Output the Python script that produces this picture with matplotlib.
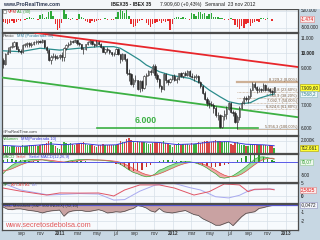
import numpy as np
import pandas as pd
import matplotlib
matplotlib.use("Agg")
import matplotlib.pyplot as plt
import matplotlib.dates as mdates
from matplotlib.patches import Rectangle
from matplotlib.ticker import NullLocator

plt.rcParams['font.family'] = ['Liberation Sans', 'DejaVu Sans']

W, H = 320, 240
L_PX, R_PX = 2, 298

# ---------------- data: IBEX 35 weekly ----------------
weeks = pd.date_range("2010-07-02", "2012-11-23", freq="W-FRI")
first_open = 9550
close = [9250, 9950, 10100, 10450, 10500, 10750, 10300, 10150, 10100, 10550, 10600, 10700, 10550,
         10650, 10800, 10750, 10850, 10800, 10900, 10400, 10200, 9550, 9750, 9800, 9650, 9750,
         9850, 9700, 10350, 10550, 10650, 10850, 10800, 10900, 10700, 10600, 10300, 10250, 10600,
         10750, 10850, 10600, 10550, 10800, 10650, 10450, 10100, 10250, 10200, 10050, 9950, 9950,
         10300, 9900, 9600, 9900, 9600, 8750, 8650, 8100, 8350, 8300, 7850, 8250, 7900,
         8550, 8600, 8850, 8800, 9150, 8600, 8400, 8000, 7850, 8650, 8300, 8200, 8400,
         8550, 8350, 8400, 8700, 8550, 8700, 8600, 8850, 8550, 8500, 8500, 8550, 8200,
         8000, 7600, 7300, 7100, 7050, 7000, 6900, 6550, 6550, 6050, 6500, 6600, 6850,
         7100, 6700, 6650, 6250, 6450, 6900, 7100, 7350, 7300, 7450, 7800, 8100, 7950,
         7750, 7850, 7750, 8050, 7800, 7850, 7700, 7650, 7909.6]
high = [9650, 10000, 10400, 10500, 10750, 10850, 10750, 10500, 10250, 10600, 10700, 10800, 10750,
        10800, 10850, 10900, 10900, 10950, 11000, 10900, 10500, 10250, 9850, 10000, 9900, 9850,
        9900, 10100, 10400, 10600, 10750, 10900, 10950, 11000, 10950, 10800, 10650, 10400, 10650,
        10850, 10900, 10850, 10700, 10900, 10850, 10700, 10500, 10300, 10400, 10250, 10100, 10050,
        10350, 10350, 9950, 10000, 9950, 9650, 8950, 8700, 8450, 8600, 8350, 8300, 8300,
        8600, 8700, 8900, 8950, 9300, 9250, 8750, 8450, 8050, 8750, 8700, 8400, 8450,
        8600, 8650, 8500, 8750, 8800, 8800, 8850, 8900, 8900, 8700, 8600, 8650, 8600,
        8250, 8050, 7700, 7400, 7250, 7200, 7100, 6950, 6700, 6600, 6550, 6800, 6950,
        7150, 7150, 6800, 6750, 6550, 6950, 7200, 7450, 7450, 7500, 7900, 8230, 8200,
        8000, 7950, 7900, 8150, 8100, 7950, 7900, 7750, 7950]
low = [9050, 9200, 9900, 10000, 10350, 10450, 10250, 10100, 9950, 10000, 10400, 10450, 10400,
       10450, 10550, 10650, 10650, 10700, 10700, 10350, 10000, 9450, 9300, 9650, 9550, 9600,
       9600, 9500, 9500, 10200, 10400, 10550, 10700, 10750, 10550, 10500, 10250, 9900, 10200,
       10550, 10650, 10550, 10400, 10500, 10550, 10350, 10050, 9950, 10100, 9950, 9800, 9800,
       9900, 9850, 9350, 9450, 9500, 8600, 8250, 8050, 7950, 8200, 7800, 7650, 7700,
       7850, 8050, 8550, 8600, 8700, 8450, 8200, 7900, 7650, 7800, 8150, 8050, 8150,
       8350, 8250, 8150, 8350, 8500, 8450, 8550, 8550, 8500, 8450, 8250, 8400, 8150,
       7900, 7550, 7250, 6950, 6900, 6950, 6650, 6450, 6350, 5990, 6020, 6350, 6400,
       6800, 6650, 6500, 6200, 5956, 6350, 6850, 7050, 7200, 7100, 7350, 7750, 7850,
       7600, 7650, 7650, 7700, 7700, 7700, 7600, 7500, 7600]

ma_weeks = [0, 8, 17, 26, 35, 44, 51, 54, 58, 63, 66, 72, 77, 81, 86, 91, 95, 100, 104, 109, 114, 118, 123, 125]
ma_vals = [10150, 10090, 10330, 10200, 10330, 10440, 10440, 10330, 9980, 9535, 9216, 8806,
           8610, 8513, 8417, 8137, 7776, 7427, 7181, 7071, 7131, 7348, 7516, 7568]

# VPM AL (30), thousands
vpm = [-150, -250, -300, -200, -100, -250, -150, -50, -100, 30,
       -40, 80, 120, 60, 100, 40, -30, 250, 300, 80,
       150, 450, 500, 200, -300, -650, -500, -200, 550, 300,
       60, -50, 80, 40, -30, 300, 150, 60, -100, -150,
       -200, -80, -150, -120, -60, -40, 30, 50, -40, 20,
       -60, -30, 150, 400, 550, 500, 350, 550, 200, -300,
       -450, -400, -200, -100, -50, 40, -200, -350, -450, -300,
       -250, -150, -100, -200, -100, -150, -80, -650, -300, 100,
       150, 120, 80, 140, 60, 30, -40, 350, 300, 200,
       450, 400, 300, 350, 200, 300, 350, 150, 120, 150,
       100, 80, -40, 30, -60, 50, -30, -350, -450, -550,
       -400, -500, -300, -250, -400, -200, -150, -100, -180, 60,
       100, -50, 80, 40, -80, -1.474]

# volume, thousands
volume = [1250, 1300, 1150, 1000, 1100, 1050, 900, 850, 950, 1200,
          1150, 1100, 1250, 1300, 1350, 1200, 1150, 1250, 1400, 1450,
          1600, 1900, 1750, 1350, 1100, 800, 600, 1300, 1800, 1600,
          1500, 1550, 1400, 1350, 1450, 1500, 1600, 1750, 1400, 1300,
          1250, 1200, 1150, 900, 1250, 1300, 1400, 1200, 1250, 1300,
          1350, 1200, 1300, 1500, 1900, 1700, 1800, 2300, 2450, 2100,
          1700, 1600, 1900, 1850, 1700, 1750, 1650, 1500, 1450, 1600,
          1700, 1800, 1750, 1650, 1900, 1600, 1450, 1200, 900, 1300,
          1500, 1550, 1350, 1500, 1450, 1400, 1350, 1550, 1400, 1500,
          1700, 1600, 1850, 1900, 2000, 1800, 1750, 1900, 2100, 1950,
          2000, 1800, 1900, 1700, 1750, 1450, 1300, 1600, 1750, 1500,
          1350, 1200, 1100, 1150, 1400, 1500, 1350, 1300, 1250, 1200,
          1300, 1200, 1150, 1250, 1100, 712.661]
vol_ma_weeks = [0, 8, 16, 22, 28, 36, 44, 52, 58, 64, 72, 80, 88, 96, 104, 112, 120, 125]
vol_ma = [1200, 1050, 1250, 1450, 1300, 1550, 1250, 1300, 1900, 1800, 1700, 1350,
          1450, 1800, 1850, 1400, 1300, 1150]

# indicators sampled every second week (plus last week)
bi_weeks = list(range(0, 125, 2)) + [125]
macd = [-420, -250, -120, -30, 30, 60, 80, 90, 90, 80,
        50, 20, -10, -20, -10, 30, 60, 80, 90, 90,
        80, 70, 70, 60, 40, 20, -20, -80, -180, -290,
        -380, -430, -500, -540, -520, -440, -300, -240, -160, -100,
        -40, 0, 10, 10, -20, -70, -130, -220, -330, -430,
        -560, -590, -560, -500, -400, -290, -170, -40, 100, 180,
        190, 160, 120, 100]
signal = [-300, -300, -250, -180, -110, -50, 0, 40, 65, 80,
          75, 60, 40, 15, 0, 0, 15, 40, 60, 75,
          80, 78, 74, 70, 60, 45, 25, -10, -70, -150,
          -240, -320, -400, -460, -490, -480, -430, -370, -300, -230,
          -160, -100, -50, -20, -10, -30, -70, -130, -210, -300,
          -400, -480, -530, -540, -510, -440, -340, -220, -100, 10,
          90, 130, 140, 130]
hist = [60, 120, 100, 80, 70, 60, 40, 30, 20, 10,
        -10, -30, -50, -40, -10, 30, 50, 50, 40, 20,
        0, -10, -10, -20, -30, -40, -60, -120, -200, -280,
        -330, -340, -300, -200, -100, 0, 40, 60, 60, 60,
        50, 40, 20, 10, -30, -80, -120, -160, -170, -170,
        -160, -120, -60, -20, 60, 150, 230, 300, 320, 280,
        200, 120, 60, 40]
rsc = [-0.3, -0.55, -0.6, -0.5, -0.5, -0.6, -0.7, -0.75, -0.85, -1.0,
       -0.85, -0.75, -0.7, -0.65, -1.4, -0.9, -0.75, -0.7, -0.7, -0.8,
       -0.8, -0.7, -0.6, -0.75, -1.0, -0.95, -0.85, -0.9, -0.8, -0.6,
       -0.45, -0.1, -0.2, -0.4, -0.75, -0.9, -0.45, -0.85, -0.95, -1.0,
       -0.9, -0.8, -0.7, -0.95, -1.2, -1.3, -1.7, -1.95, -2.2, -2.5,
       -2.5, -2.3, -2.1, -2.55, -2.0, -1.45, -1.05, -0.95, -0.85, -0.45,
       -0.35, -0.2, -0.1, -0.0472]

sp_red_weeks = [0, 8, 20, 26, 35, 44, 49, 51, 56, 63, 68, 72, 79, 88, 95, 102, 109, 113, 116, 123, 125]
sp_red = [3.3, 2.0, 0.4, 1.25, 1.2, 1.25, 0.4, 0.0, 2.5, 4.6, 4.6, 4.6, 3.3, 0.4, 1.8, 5.0, 4.6, 1.8, 2.8, 2.9, 2.5825]
sp_blue_weeks = [0, 8, 21, 35, 44, 51, 56, 63, 70, 75, 79, 86, 91, 98, 104, 109, 114, 123, 125]
sp_blue = [5.3, 2.5, 0.4, 1.0, 0.8, -1.7, -1.5, 2.0, 4.5, 5.2, 5.2, 3.5, 2.5, -0.3, -0.8, 0.3, 2.5, 2.9, 2.8]

# drawn lines on the price panel
red_line_dates = ["2010-10-12", "2013-02-08"]
red_line_vals = [11480, 9090]
green_line_dates = ["2010-06-21", "2013-02-08"]
green_line_vals = [8480, 6460]
support_dates = ["2011-04-30", "2012-10-02"]
support_val = 6000
fib_levels = [8229.2, 7692.8, 7360.9, 7092.7, 6824.6, 5956.3]
fib_labels = ["8.229,2 (0,00%)", "7.692,8 (23,60%)", "7.360,9 (38,20%)",
              "7.092,7 (50,00%)", "6.824,6 (61,80%)", "5.956,3 (100,00%)"]
fib_start = "2012-07-25"

tick_dates = ["2010-09-01", "2010-11-01", "2011-01-01", "2011-03-01", "2011-05-01", "2011-07-01",
              "2011-09-01", "2011-11-01", "2012-01-01", "2012-03-01", "2012-05-01", "2012-07-01",
              "2012-09-01", "2012-11-01", "2013-01-01"]
tick_labels = ["sep", "nov", "2011", "mar", "may", "jul", "sep", "nov", "2012",
               "mar", "may", "jul", "sep", "nov", "2013"]


def dn(s):
    return mdates.date2num(pd.Timestamp(s).to_pydatetime())


wk = mdates.date2num(weeks.to_pydatetime())
bx = wk[bi_weeks]
xmin, xmax = dn("2010-06-28"), dn("2013-02-08")
tick_x = [dn(d) for d in tick_dates]

op = np.array([first_open] + close[:-1], dtype=float)
cl = np.array(close, dtype=float)
up = cl >= op

fig = plt.figure(figsize=(3.2, 2.4), dpi=100)
fig.patch.set_facecolor('#c7d7e3')

LAB = 3.0   # panel label size
RAX = 3.3   # right axis label size


def ftext(x, y, s, **kw):
    kw.setdefault('va', 'center')
    kw.setdefault('fontsize', LAB)
    fig.text(x / W, 1 - y / H, s, **kw)


def add_panel(top, bottom, ygrid=()):
    ax = fig.add_axes([L_PX / W, 1 - bottom / H, (R_PX - L_PX) / W, (bottom - top) / H])
    ax.set_facecolor('#f7fafd')
    ax.set_xlim(xmin, xmax)
    ax.set_xticks(tick_x)
    ax.set_yticks(list(ygrid))
    ax.tick_params(axis='both', length=0, labelbottom=False, labelleft=False)
    ax.grid(color='#d6e0e8', lw=0.5)
    ax.set_axisbelow(True)
    for s in ax.spines.values():
        s.set_color('#4d4d4d')
        s.set_linewidth(0.9)
    return ax


def rlabel(ax, y, s, color='#222222', fc=None, ec=None, bold=False):
    kw = dict(transform=ax.get_yaxis_transform(), fontsize=RAX, color=color,
              va='center', ha='left', clip_on=False,
              fontweight='bold' if bold else 'normal')
    if fc:
        kw['bbox'] = dict(boxstyle='square,pad=0.12', fc=fc, ec=ec or fc, lw=0.4)
    ax.text(1.009, y, s, **kw)


# header strip
fig.patches.append(Rectangle((0, 1 - 8.5 / H), 1, 8.5 / H, transform=fig.transFigure,
                             fc='#f4f6f8', ec='none', zorder=0))
ftext(3, 4.3, "www.ProRealTime.com", fontsize=3.7, fontweight='bold', color='#2a3550')
ftext(111, 4.3, "IBEX35 - IBEX 35", fontsize=3.6, fontweight='bold', color='#222222')
ftext(160, 4.3, "7.909,60 (+0,43%)", fontsize=3.6, color='#222222')
ftext(205, 4.3, "Semanal  23 nov 2012", fontsize=3.6, color='#222222')

# ---------- VPM panel ----------
ax1 = add_panel(9, 31.5, ygrid=(-500, 500))
ax1.set_ylim(-723, 602)
ax1.bar(wk, vpm, width=4.5, color=['#2faa3a' if v >= 0 else '#e82b2b' for v in vpm], lw=0)
rlabel(ax1, 500, "500.000")
rlabel(ax1, -1.474, "-1.474", color='#e01010', fc='#fbeaea', ec='#e08080')
rlabel(ax1, -500, "-500.000")
fig.patches.append(Rectangle((2.8 / W, 1 - 13.4 / H), 3.0 / W, 3.0 / H, transform=fig.transFigure,
                             fc='#ffffff', ec='#777777', lw=0.4, zorder=5))
ftext(7.5, 11.8, "VPM", color='#e02020')
ftext(17, 11.8, "AL (30)", color='#2a9a2a')

# ---------- price panel ----------
ax2 = add_panel(33, 134.5)
ax2.set_yscale('log')
ax2.set_ylim(5744, 11458)
ax2.set_yticks([6000, 7000, 8000, 9000, 10000, 11000])
ax2.yaxis.set_minor_locator(NullLocator())
ax2.tick_params(axis='both', length=0, labelbottom=False, labelleft=False)
ax2.grid(color='#d6e0e8', lw=0.5)

ax2.plot([dn(d) for d in red_line_dates], red_line_vals, color='#e8262b', lw=1.3, zorder=3)
ax2.plot([dn(d) for d in green_line_dates], green_line_vals, color='#3cb043', lw=1.3, zorder=3)
ax2.plot([dn(d) for d in support_dates], [support_val, support_val], color='#3cb043', lw=1.2, zorder=3)
ax2.text(dn("2011-10-05"), 6330, "6.000", color='#3cb043', fontsize=6.3, fontweight='bold',
         ha='center', va='center')

for i, (lv, lab) in enumerate(zip(fib_levels, fib_labels)):
    if i == 0:
        ax2.plot([dn(fib_start), xmax], [lv, lv], color='#cdb096', lw=1.6, zorder=2)
    else:
        ax2.plot([dn(fib_start), xmax], [lv, lv], color='#b89a7c', lw=0.5,
                 ls=(0, (1, 1)) if i < 5 else '-', zorder=2)
    ax2.text(0.997, lv, lab, transform=ax2.get_yaxis_transform(), fontsize=2.9,
             color='#7a5c40', ha='right', va='bottom', zorder=4)

ax2.plot(wk[ma_weeks], ma_vals, color='#2b8c8c', lw=0.9, zorder=4)
ax2.vlines(wk, low, high, color='#262626', lw=0.5, zorder=5)
ax2.bar(wk, np.abs(cl - op), bottom=np.minimum(op, cl), width=4.2,
        color=np.where(up, '#ffffff', '#262626'), edgecolor='#262626', lw=0.4, zorder=6)

for v in [11000, 10000, 9000, 7000, 6000]:
    rlabel(ax2, v, f"{v // 1000}.000", bold=(v == 10000))
rlabel(ax2, 7909.6, "7.909,60", fc='#ffff33', ec='#b0a000')
rlabel(ax2, 7568, "7.568,2", color='#2b7c8c', fc='#eef6f8', ec='#8ab8c0')
ftext(3, 35.8, "Precio", color='#333333')
ftext(17, 35.8, "MM (Ponderada 30)", color='#2b7c9c')
ftext(3, 131.8, "©ProRealTime.com", fontsize=2.9, color='#333333')

# ---------- volume panel ----------
ax3 = add_panel(136, 152.5, ygrid=(2000,))
ax3.set_ylim(0, 2800)
ax3.bar(wk, volume, width=4.5, color=np.where(up, '#3cb03c', '#d84545'), lw=0)
ax3.plot(wk[vol_ma_weeks], vol_ma, color='#3a3ad8', lw=0.7)
rlabel(ax3, 2000, "2.000K")
rlabel(ax3, 712.661, "712.661", fc='#ffff33', ec='#b0a000')
ftext(3, 138.8, "Volumen", color='#2a9a2a')
ftext(21, 138.8, "MM(Ponderada 10)", color='#3a3ad8')

# ---------- MACD panel ----------
ax4 = add_panel(154, 181.5, ygrid=(-500,))
ax4.set_ylim(-712, 292)
m = np.array(macd, dtype=float)
s = np.array(signal, dtype=float)
ax4.fill_between(bx, m, s, where=m >= s, interpolate=True, color='#9edc9e', lw=0)
ax4.fill_between(bx, m, s, where=m < s, interpolate=True, color='#f0a8a8', lw=0)
ax4.bar(bx, hist, width=5, color=['#2a9a2a' if v >= 0 else '#c83030' for v in hist], lw=0)
ax4.plot(bx, m, color='#3aa83a', lw=0.5)
ax4.plot(bx, s, color='#e04848', lw=0.5)
ax4.axhline(0, color='#5a5ae8', lw=0.7)
rlabel(ax4, 10, "70,07", color='#2a9a2a', fc='#eef8ee', ec='#90c890')
rlabel(ax4, -500, "-500")
ftext(3, 156.8, "MACD", color='#2a9a2a')
ftext(16, 156.8, "Señal", color='#e04848')
ftext(29, 156.8, "Señal MACD(12,26,9)", color='#3a3ad8')

# ---------- SP panel ----------
ax5 = add_panel(183, 202.5, ygrid=(0, 5))
ax5.set_ylim(-2.7, 5.4)
ax5.plot(wk[sp_blue_weeks], sp_blue, color='#a9aaf0', lw=0.7)
ax5.plot(wk[sp_red_weeks], sp_red, color='#e05565', lw=0.7)
rlabel(ax5, 5, "5")
rlabel(ax5, 2.5825, "2,5825", color='#e01010', fc='#fbeaea', ec='#e08080')
rlabel(ax5, 0, "0", bold=True)
ftext(3, 185.5, "SP", color='#2a7a2a')
ftext(11, 185.5, "ATLAS AL", color='#e04848')
ftext(32, 185.5, "tch", color='#8a8ae0')

# ---------- RSC Mansfield panel ----------
ax6 = add_panel(204, 229.5, ygrid=(-1, -2))
ax6.set_ylim(-3.02, 0.09)
ax6.fill_between(bx, rsc, 0, color='#c9a2a2', lw=0)
ax6.plot(bx, rsc, color='#4a4a4a', lw=0.5)
ax6.axhline(0, color='#5a5ae0', lw=0.9)
rlabel(ax6, -0.0472, "-0,0472", fc='#f2f4fa', ec='#9090c0')
rlabel(ax6, -1, "-1")
rlabel(ax6, -2, "-2")
ftext(3, 206.3, "RSC Mansfield (S&P 500 INDEX) (52,10)", color='#333333')
ftext(5, 225.5, "www.secretosdebolsa.com", fontsize=5.2, color='#e04848', alpha=0.9)

ax6.tick_params(axis='x', labelbottom=True, pad=1.2, labelsize=3.4, labelcolor='#333333')
ax6.set_xticklabels(tick_labels)
for t in ax6.get_xticklabels():
    if t.get_text().isdigit():
        t.set_fontweight('bold')

fig.savefig("out.png", dpi=100, facecolor=fig.get_facecolor())
